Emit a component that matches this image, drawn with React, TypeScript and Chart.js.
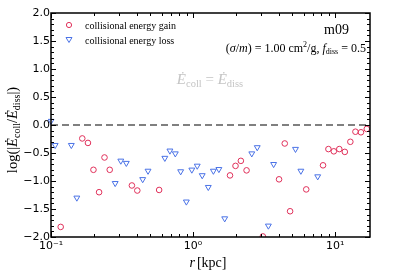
import React, { useEffect, useRef } from "react";
import { Chart, registerables } from "chart.js";

Chart.register(...registerables);

const gainR = [0.117, 0.166, 0.182, 0.199, 0.218, 0.238, 0.259, 0.371, 0.405, 0.577, 1.82, 1.99, 2.17, 2.38, 3.1, 4.03, 4.42, 4.82, 6.26, 8.22, 8.97, 9.79, 10.7, 11.7, 12.8, 13.9, 15.2, 16.7];
const gainY = [-1.82, -0.24, -0.32, -0.8, -1.2, -0.58, -0.8, -1.08, -1.17, -1.16, -0.9, -0.73, -0.64, -0.81, -1.99, -0.97, -0.33, -1.54, -1.15, -0.72, -0.43, -0.47, -0.43, -0.48, -0.3, -0.12, -0.13, -0.07];
const lossR = [0.1, 0.107, 0.139, 0.152, 0.283, 0.31, 0.339, 0.442, 0.482, 0.633, 0.687, 0.75, 0.818, 0.897, 0.98, 1.07, 1.16, 1.28, 1.39, 1.52, 1.67, 2.59, 2.83, 3.39, 3.69, 5.26, 5.74, 7.54];
const lossY = [0.07, -0.36, -0.36, -1.3, -1.04, -0.64, -0.68, -0.97, -0.82, -0.59, -0.46, -0.51, -0.83, -1.37, -0.8, -0.73, -0.9, -1.11, -0.82, -0.79, -1.67, -0.51, -0.4, -1.8, -0.7, -0.43, -0.82, -0.92];
const xMajorTicks = [0.1, 1, 10];
const xTickLabels = ["10\u207B\u00B9", "10\u2070", "10\u00B9"];
const yMajorTicks = [-2, -1.5, -1, -0.5, 0, 0.5, 1, 1.5, 2];
const seriesLabels = ["collisional energy gain", "collisional energy loss"];
const X_MIN = 0.1;
const X_MAX = 17.6;

const RED = "#e0305a";
const BLUE = "#4a72e6";
const SERIF = "'Liberation Serif', 'DejaVu Serif', serif";

type Run = { t: string; size: number; italic?: boolean; dy?: number; gap?: number };

function drawRuns(ctx: CanvasRenderingContext2D, runs: Run[], x: number, y: number, align: "left" | "center" | "right", color: string) {
  const fontOf = (r: Run) => `${r.italic ? "italic " : ""}${r.size}px ${SERIF}`;
  let total = 0;
  for (const r of runs) {
    ctx.font = fontOf(r);
    total += ctx.measureText(r.t).width + (r.gap || 0);
  }
  let cx = align === "left" ? x : align === "center" ? x - total / 2 : x - total;
  ctx.fillStyle = color;
  ctx.textAlign = "left";
  ctx.textBaseline = "alphabetic";
  for (const r of runs) {
    ctx.font = fontOf(r);
    ctx.fillText(r.t, cx, y + (r.dy || 0));
    cx += ctx.measureText(r.t).width + (r.gap || 0);
  }
}

const decorPlugin = {
  id: "decor",
  afterDraw(chart: any) {
    const ctx: CanvasRenderingContext2D = chart.ctx;
    const a = chart.chartArea;
    const xs = chart.scales.x;
    const ys = chart.scales.y;
    ctx.save();
    ctx.strokeStyle = "#000";
    ctx.lineWidth = 1;
    const tick = (x1: number, y1: number, x2: number, y2: number) => {
      ctx.beginPath();
      ctx.moveTo(x1, y1);
      ctx.lineTo(x2, y2);
      ctx.stroke();
    };
    for (let e = -1; e <= 1; e++) {
      for (let m = 1; m <= 9; m++) {
        const v = m * Math.pow(10, e);
        if (v < X_MIN - 1e-9 || v > X_MAX) continue;
        const px = Math.round(xs.getPixelForValue(v)) + 0.5;
        const len = m === 1 ? 5 : 3;
        tick(px, a.bottom, px, a.bottom - len);
        tick(px, a.top, px, a.top + len);
      }
    }
    for (let i = -20; i <= 20; i++) {
      const v = i / 10;
      const py = Math.round(ys.getPixelForValue(v)) + 0.5;
      const len = i % 5 === 0 ? 5 : 3;
      tick(a.left, py, a.left + len, py);
      tick(a.right, py, a.right - len, py);
    }
    ctx.lineWidth = 1.5;
    ctx.strokeRect(a.left, a.top, a.right - a.left, a.bottom - a.top);

    // legend
    const legY = [25, 40];
    const legX = 69;
    ctx.lineWidth = 1;
    ctx.strokeStyle = RED;
    ctx.beginPath();
    ctx.arc(legX, legY[0], 2.6, 0, Math.PI * 2);
    ctx.stroke();
    ctx.strokeStyle = BLUE;
    ctx.beginPath();
    ctx.moveTo(legX - 3, legY[1] - 2.5);
    ctx.lineTo(legX + 3, legY[1] - 2.5);
    ctx.lineTo(legX, legY[1] + 2.5);
    ctx.closePath();
    ctx.stroke();
    drawRuns(ctx, [{ t: seriesLabels[0], size: 10 }], 85, legY[0] + 3.5, "left", "#000");
    drawRuns(ctx, [{ t: seriesLabels[1], size: 10 }], 85, legY[1] + 3.5, "left", "#000");

    // annotations
    drawRuns(ctx, [{ t: "m09", size: 14 }], 349, 34, "right", "#000");
    drawRuns(
      ctx,
      [
        { t: "(", size: 12 },
        { t: "\u03C3", size: 12, italic: true },
        { t: "/", size: 12 },
        { t: "m", size: 12, italic: true },
        { t: ") = 1.00 cm", size: 12 },
        { t: "2", size: 8, dy: -5 },
        { t: "/g, ", size: 12 },
        { t: "f", size: 12, italic: true },
        { t: "diss", size: 8, dy: 2 },
        { t: " = 0.5", size: 12 },
      ],
      366,
      52,
      "right",
      "#000"
    );
    drawRuns(
      ctx,
      [
        { t: "\u0116", size: 15, italic: true },
        { t: "coll", size: 10.5, dy: 3 },
        { t: " = ", size: 15 },
        { t: "\u0116", size: 15, italic: true },
        { t: "diss", size: 10.5, dy: 3 },
      ],
      210,
      84,
      "center",
      "#c4c4c4"
    );

    // x axis title
    drawRuns(
      ctx,
      [
        { t: "r", size: 14, italic: true, gap: 2 },
        { t: "[kpc]", size: 14 },
      ],
      208,
      267,
      "center",
      "#000"
    );
    // y axis title
    ctx.save();
    ctx.translate(17, 130);
    ctx.rotate(-Math.PI / 2);
    drawRuns(
      ctx,
      [
        { t: "log(|", size: 14.5 },
        { t: "\u0116", size: 14.5, italic: true },
        { t: "coll", size: 10, dy: 3 },
        { t: "/", size: 14.5 },
        { t: "\u0116", size: 14.5, italic: true },
        { t: "diss", size: 10, dy: 3 },
        { t: "|)", size: 14.5 },
      ],
      0,
      0,
      "center",
      "#000"
    );
    ctx.restore();
    ctx.restore();
  },
};

export default function App() {
  const ref = useRef<HTMLCanvasElement | null>(null);
  useEffect(() => {
    document.body.style.margin = "0";
    const canvas = ref.current;
    if (!canvas) return;
    const chart = new Chart(canvas, {
      type: "scatter",
      data: {
        datasets: [
          {
            type: "line",
            label: "equal",
            data: [
              { x: X_MIN, y: 0 },
              { x: X_MAX, y: 0 },
            ],
            borderColor: "#808080",
            borderWidth: 1.8,
            borderDash: [7, 4],
            pointRadius: 0,
            fill: false,
          } as any,
          {
            label: seriesLabels[0],
            data: gainR.map((r, i) => ({ x: r, y: gainY[i] })),
            pointStyle: "circle",
            pointRadius: 2.8,
            borderColor: RED,
            backgroundColor: "rgba(0,0,0,0)",
            borderWidth: 1,
          },
          {
            label: seriesLabels[1],
            data: lossR.map((r, i) => ({ x: r, y: lossY[i] })),
            pointStyle: "triangle",
            rotation: 180,
            pointRadius: 3.4,
            borderColor: BLUE,
            backgroundColor: "rgba(0,0,0,0)",
            borderWidth: 1,
            clip: { left: 3, top: 0, right: 0, bottom: 0 },
          } as any,
        ],
      },
      options: {
        animation: false,
        responsive: false,
        devicePixelRatio: 1,
        layout: { padding: { top: 13, right: 37, left: 0, bottom: 0 } },
        plugins: { legend: { display: false }, tooltip: { enabled: false }, title: { display: false } },
        scales: {
          x: {
            type: "logarithmic",
            min: X_MIN,
            max: X_MAX,
            grid: { display: false, drawTicks: false },
            border: { display: false },
            afterBuildTicks: (s: any) => {
              s.ticks = xMajorTicks.map((v) => ({ value: v }));
            },
            afterFit: (s: any) => {
              s.height = 34;
            },
            ticks: {
              autoSkip: false,
              maxRotation: 0,
              padding: 3,
              color: "#000",
              font: { family: "'DejaVu Sans', sans-serif", size: 11 },
              callback: (v: any) => {
                const i = xMajorTicks.findIndex((t) => Math.abs(t - Number(v)) < 1e-9);
                return i >= 0 ? xTickLabels[i] : "";
              },
            },
          },
          y: {
            min: -2,
            max: 2,
            grid: { display: false, drawTicks: false },
            border: { display: false },
            afterBuildTicks: (s: any) => {
              s.ticks = yMajorTicks.map((v) => ({ value: v }));
            },
            afterFit: (s: any) => {
              s.width = 51;
            },
            ticks: {
              autoSkip: false,
              padding: 1,
              color: "#000",
              font: { family: "'DejaVu Sans', sans-serif", size: 11 },
              callback: (v: any) => {
                const n = Number(v);
                const s = Math.abs(n).toFixed(1);
                return n < 0 ? "\u2212" + s : s;
              },
            },
          },
        },
      } as any,
      plugins: [decorPlugin],
    });
    return () => chart.destroy();
  }, []);
  return (
    <canvas
      ref={ref}
      width={407}
      height={271}
      style={{ display: "block", width: 407, height: 271 }}
    />
  );
}
